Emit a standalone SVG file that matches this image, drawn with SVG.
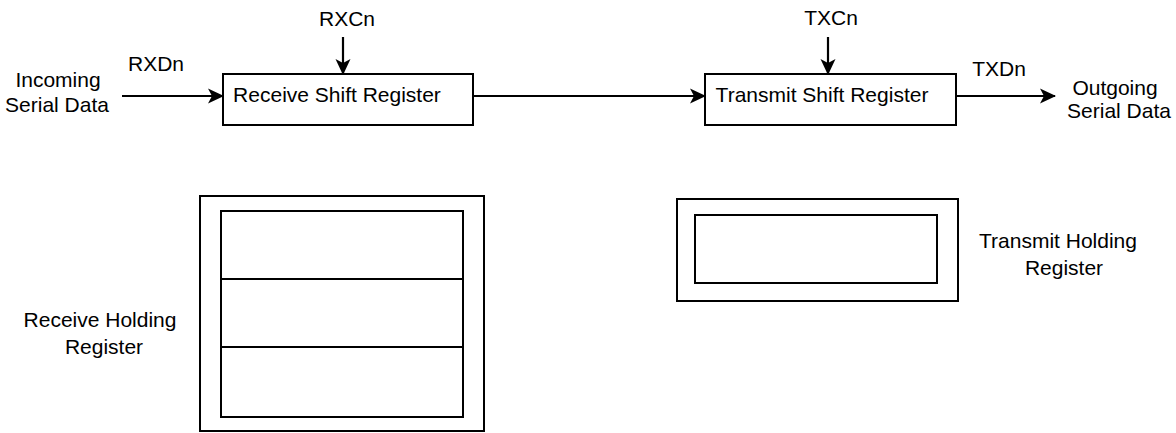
<svg xmlns="http://www.w3.org/2000/svg" width="1176" height="433" viewBox="0 0 1176 433">
<defs>
<marker id="arr" markerWidth="16" markerHeight="16" viewBox="0 0 16 16" refX="15" refY="8" orient="auto" markerUnits="userSpaceOnUse">
<path d="M0,0.5 L16,8 L0,15.5 L4,8 Z" fill="#000"/>
</marker>
<style>
text{font-family:"Liberation Sans",Arial,sans-serif;font-size:21px;fill:#000}
.box{fill:#fff;stroke:#000;stroke-width:2}
.wire{fill:none;stroke:#000;stroke-width:2.2;marker-end:url(#arr)}
</style>
</defs>
<rect width="1176" height="433" fill="#fff"/>
<g id="connectors">
<line class="wire" x1="122" y1="96" x2="223" y2="96"/>
<line class="wire" x1="343" y1="37" x2="343" y2="74"/>
<line class="wire" x1="473" y1="96" x2="705" y2="96"/>
<line class="wire" x1="828" y1="37" x2="828" y2="74"/>
<line class="wire" x1="956" y1="96" x2="1055" y2="96"/>
</g>
<g id="incoming">
<text x="58" y="87" text-anchor="middle">Incoming</text>
<text x="57" y="112" text-anchor="middle">Serial Data</text>
</g>
<g id="rxdn"><text x="156" y="71" text-anchor="middle">RXDn</text></g>
<g id="rxcn"><text x="347" y="26" text-anchor="middle">RXCn</text></g>
<g id="rsr">
<rect class="box" x="223" y="74" width="250" height="51"/>
<text x="337" y="102" text-anchor="middle">Receive Shift Register</text>
</g>
<g id="txcn"><text x="831" y="25" text-anchor="middle">TXCn</text></g>
<g id="tsr">
<rect class="box" x="705" y="74" width="251" height="51"/>
<text x="822" y="102" text-anchor="middle">Transmit Shift Register</text>
</g>
<g id="txdn"><text x="999" y="76" text-anchor="middle">TXDn</text></g>
<g id="outgoing">
<text x="1115" y="95" text-anchor="middle">Outgoing</text>
<text x="1119" y="118" text-anchor="middle">Serial Data</text>
</g>
<g id="rhr">
<rect class="box" x="200" y="196" width="284" height="235"/>
<rect class="box" x="221" y="211" width="242" height="206"/>
<line x1="221" y1="279" x2="463" y2="279" stroke="#000" stroke-width="2"/>
<line x1="221" y1="347" x2="463" y2="347" stroke="#000" stroke-width="2"/>
</g>
<g id="rhr-label">
<text x="100" y="327" text-anchor="middle">Receive Holding</text>
<text x="104" y="354" text-anchor="middle">Register</text>
</g>
<g id="thr">
<rect class="box" x="677" y="199" width="281" height="102"/>
<rect class="box" x="695" y="215" width="242" height="68"/>
</g>
<g id="thr-label">
<text x="1058" y="248" text-anchor="middle">Transmit Holding</text>
<text x="1064" y="275" text-anchor="middle">Register</text>
</g>
</svg>
